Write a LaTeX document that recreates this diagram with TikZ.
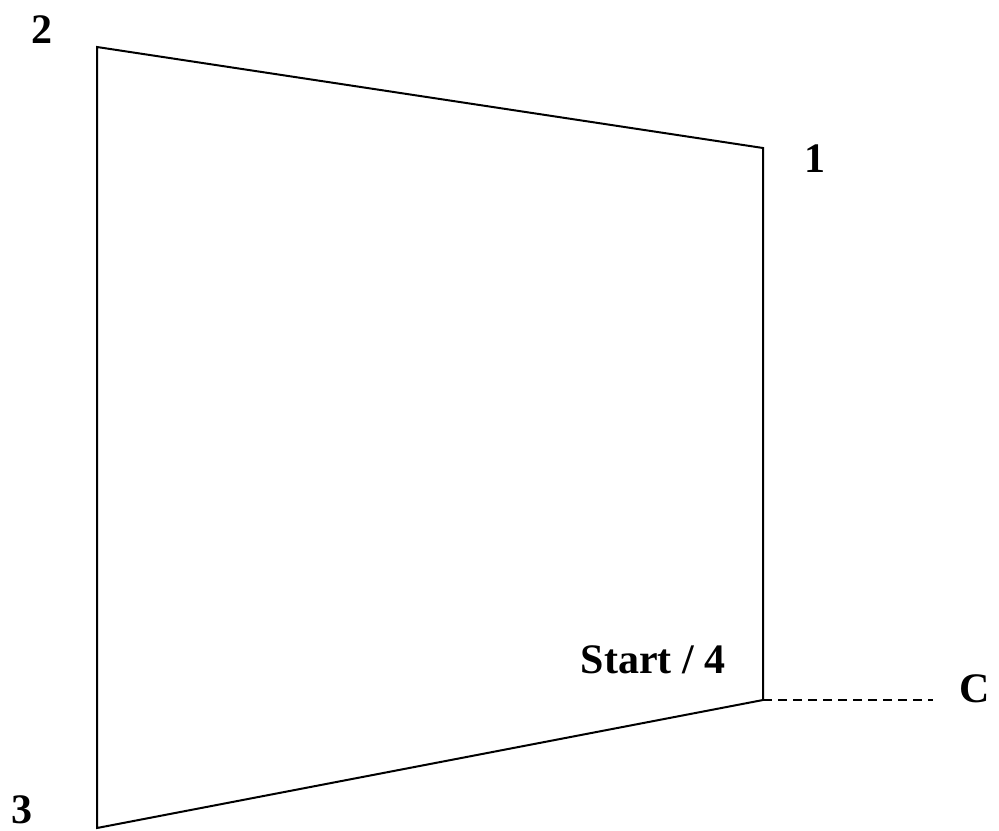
\documentclass[tikz,border=0pt]{standalone}
\usepackage{fontspec}
\setmainfont{Liberation Serif}
\usepackage{tikz}
\usetikzlibrary{calc}
\usetikzlibrary{positioning}
\tikzset{>=latex}
\tikzstyle{lbl} = [draw=none, inner sep = 0, anchor = base, font = \fontsize{21}{24}\selectfont\bfseries]

\begin{document}
\begin{tikzpicture}[x=0.5pt, y=-0.5pt, line width=1pt]
\useasboundingbox (0, 0) rectangle (999, 830);
\coordinate (P1) at (763, 148);
\coordinate (P2) at (97, 47);
\coordinate (P3) at (97, 828);
\coordinate (P4) at (763, 700);
\coordinate (Ce) at (933, 700);
\node [lbl] (n2) at (42, 43) {2};
\node [lbl] (n1) at (815, 172) {1};
\node [lbl] (n3) at (22, 823) {3};
\node [lbl] (n4) at (653, 673) {Start / 4};
\node [lbl] (nC) at (975, 702) {C};
\draw (P4) -- (P1) -- (P2) -- (P3) -- cycle;
\draw [dashed, dash pattern=on 4.5pt off 3pt] (P4) to (Ce);
\end{tikzpicture}
\end{document}
